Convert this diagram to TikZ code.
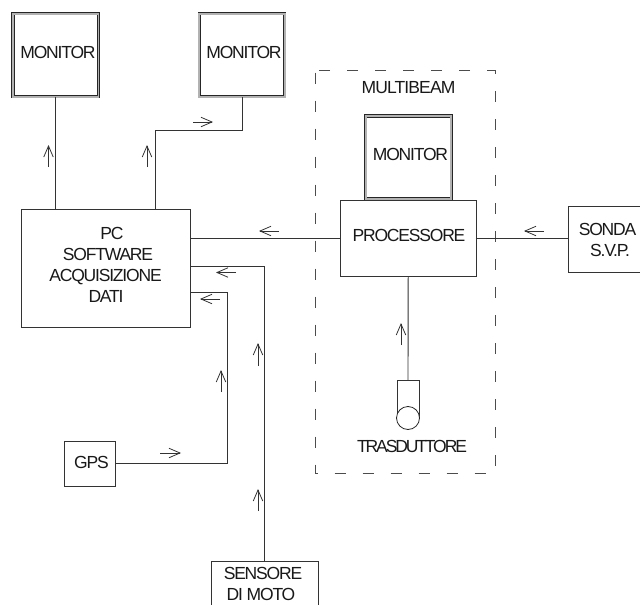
\documentclass[tikz,border=0pt]{standalone}
\usepackage{fontspec}
\setmainfont[LetterSpace=-6.8]{Liberation Sans}
\usetikzlibrary{arrows.meta}
\tikzset{
  ink/.style={draw=black!80,line width=.9pt},
  box/.style={ink,rectangle,inner sep=0pt,outer sep=0pt,fill=white},
  monitorbox/.style={rectangle,inner sep=0pt,outer sep=0pt,draw=black!85,line width=.8pt,double=black!30,double distance=1.7pt,fill=white,minimum width=85.5pt,minimum height=83pt},
  lbl/.style={inner sep=0pt,font=\fontsize{17.5}{21}\selectfont,align=center,text=black!90},
  wire/.style={ink,line join=miter},
  flow/.style={draw=black!80,line width=.8pt,-{Straight Barb[length=11pt,width=9.5pt]}},
  frame/.style={draw=black!70,line width=1pt,dash pattern=on 11pt off 17pt}
}
\begin{document}
\begin{tikzpicture}[x=1pt,y=-1pt]
\useasboundingbox (0,0) rectangle (640,605);
\clip (0,0) rectangle (640,605);

% dashed frame
\draw[frame,dash phase=-2pt] (315,70.5) rectangle (495,473);

% boxes
\node[monitorbox] (mon1) at (55.7,55.2) {};
\node[monitorbox] (mon2) at (242,55.2) {};
\node[monitorbox] (mon3) at (408.5,157.5) {};
\node[box,minimum width=169pt,minimum height=117.5pt] (pc) at (105.5,268.2) {};
\node[box,minimum width=135.5pt,minimum height=76pt] (proc) at (408.2,238) {};
\node[box,minimum width=80pt,minimum height=66pt] (sonda) at (608,239) {};
\node[box,minimum width=51pt,minimum height=45pt] (gps) at (90,463.5) {};
\node[box,minimum width=107pt,minimum height=60pt] (sens) at (264.5,591) {};

% transducer
\node[box,minimum width=22pt,minimum height=38pt] (tbody) at (408,399) {};
\node[draw=black!85,line width=.8pt,circle,fill=white,minimum size=23pt,inner sep=0pt] (tcirc) at (408,418) {};

% labels
\node[lbl] (lm1) at (58,52) {MONITOR};
\node[lbl] (lm2) at (244,52) {MONITOR};
\node[lbl] (lm3) at (410.5,154) {MONITOR};
\node[lbl] (lmb) at (408.5,88) {\addfontfeature{LetterSpace=-5}MULTIBEAM};
\node[lbl] (lproc) at (409,235) {PROCESSORE};
\node[lbl] (lpc) at (105.5,264.5) {\hspace*{13pt}PC\\\hspace*{5pt}SOFTWARE\\ACQUISIZIONE\\\hspace*{1pt}DATI};
\node[lbl] (lsonda) at (607.5,239.5) {SONDA\\\hspace*{5pt}S.V.P.};
\node[lbl] (lgps) at (91.5,462) {GPS};
\node[lbl] (lsens) at (262,584) {\hspace*{2pt}SENSORE\\DI MOTO\hspace*{2pt}};
\node[lbl] (ltr) at (412,446) {\addfontfeature{LetterSpace=-12}TRASDUTTORE};

% connectors
\coordinate (a1) at (mon1.south);
\draw[wire] (mon1.south) -- (a1 |- pc.north);
\coordinate (a2) at (155,209.5);
\coordinate (a3) at (155,130);
\draw[wire] (a2) -- (a3) -| (mon2.south);
\coordinate (b1) at (190,238);
\draw[wire] (proc.west |- b1) -- (b1);
\draw[wire] (proc.east |- b1) -- (sonda.west |- b1);
\coordinate (c1) at (190,266);
\coordinate (c2) at (264.5,266);
\draw[wire] (c1) -- (c2) -- (sens.north);
\coordinate (d1) at (190,292);
\coordinate (d2) at (227,292);
\draw[wire] (d1) -- (d2) |- (gps.east);
\draw[wire] (proc.south) -- (tbody.north);

% flow arrows
\draw[flow] (48.5,167) -- (48.5,145);
\draw[flow] (147,167) -- (147,145);
\draw[flow] (193,122) -- (213,122);
\draw[flow] (279,231) -- (259,231);
\draw[flow] (544,231) -- (524,231);
\draw[flow] (236,272.5) -- (216,272.5);
\draw[flow] (220,299) -- (200,299);
\draw[flow] (160,453) -- (181,453);
\draw[flow] (221,392) -- (221,370);
\draw[flow] (258,366) -- (258,343);
\draw[flow] (258,511) -- (258,489);
\draw[flow] (401,345) -- (401,323);
\end{tikzpicture}
\end{document}
